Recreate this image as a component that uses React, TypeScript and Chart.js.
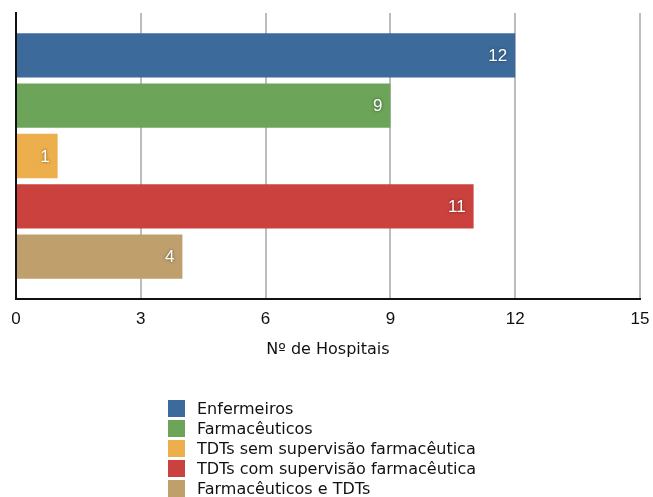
import React, { useEffect, useRef } from "react";
import { Chart, registerables } from "chart.js";

Chart.register(...registerables);

const categories = [
  "Enfermeiros",
  "Farmacêuticos",
  "TDTs sem supervisão farmacêutica",
  "TDTs com supervisão farmacêutica",
  "Farmacêuticos e TDTs",
];
const values = [12, 9, 1, 11, 4];
const colors = ["#3c6b9b", "#6ca459", "#ecaf4b", "#cb413d", "#bfa06c"];
const xTicks = [0, 3, 6, 9, 12, 15];
const xTitle = "Nº de Hospitais";

const valueLabelPlugin = {
  id: "valueLabels",
  afterDatasetsDraw(chart: any) {
    const ctx = chart.ctx;
    const meta = chart.getDatasetMeta(0);
    ctx.save();
    ctx.font = "17px 'Liberation Sans', Arial, sans-serif";
    ctx.textAlign = "right";
    ctx.textBaseline = "middle";
    ctx.fillStyle = "#ffffff";
    ctx.shadowColor = "rgba(0,0,0,0.55)";
    ctx.shadowBlur = 3;
    meta.data.forEach((bar: any, i: number) => {
      ctx.fillText(String(values[i]), bar.x - 8, bar.y + 1);
    });
    ctx.restore();
  },
};

const legendPlugin = {
  id: "listLegend",
  afterDraw(chart: any) {
    const ctx = chart.ctx;
    const left = 168;
    const top = 400;
    const row = 20;
    const box = 17;
    ctx.save();
    ctx.font = "16px 'DejaVu Sans', sans-serif";
    ctx.textAlign = "left";
    ctx.textBaseline = "middle";
    categories.forEach((label, i) => {
      const y = top + i * row;
      ctx.fillStyle = colors[i];
      ctx.fillRect(left, y, box, box);
      ctx.fillStyle = "#111111";
      ctx.fillText(label, left + 29, y + box / 2 + 1);
    });
    ctx.restore();
  },
};

export default function App() {
  const ref = useRef<HTMLCanvasElement | null>(null);
  useEffect(() => {
    if (!ref.current) return;
    const chart = new Chart(ref.current, {
      type: "bar",
      data: {
        datasets: [
          {
            label: xTitle,
            data: values.map((v, i) => ({ x: v, y: i })),
            backgroundColor: colors,
            borderWidth: 0,
            barPercentage: 0.88,
            categoryPercentage: 1,
          },
        ],
      },
      options: {
        animation: false,
        responsive: true,
        maintainAspectRatio: false,
        indexAxis: "y",
        layout: { padding: { left: 16, right: 13, top: 13, bottom: 137.4 } },
        plugins: { legend: { display: false }, tooltip: { enabled: false } },
        scales: {
          x: {
            type: "linear",
            min: 0,
            max: 15,
            afterBuildTicks: (scale: any) => {
              scale.ticks = xTicks.map((v) => ({ value: v }));
            },
            afterFit: (scale: any) => {
              scale.paddingLeft = 0;
              scale.paddingRight = 0;
            },
            grid: {
              drawTicks: false,
              color: (c: any) => (c.tick && c.tick.value === 0 ? "rgba(0,0,0,0)" : "#bdbdbd"),
              lineWidth: 2,
            },
            border: { display: true, color: "#111111", width: 2 },
            ticks: {
              padding: 10,
              color: "#111111",
              font: { family: "'Liberation Sans', Arial, sans-serif", size: 17 },
            },
            title: {
              display: true,
              text: xTitle,
              color: "#111111",
              font: { family: "'DejaVu Sans', sans-serif", size: 16 },
              padding: { top: 1, bottom: 0 },
            },
          },
          y: {
            type: "linear",
            reverse: true,
            offset: false,
            min: -0.84,
            max: 4.84,
            afterBuildTicks: (scale: any) => {
              scale.ticks = categories.map((_, i) => ({ value: i }));
            },
            grid: { display: false, drawTicks: false, offset: false },
            border: { display: true, color: "#111111", width: 2 },
            ticks: { display: false },
          },
        },
      },
      plugins: [valueLabelPlugin, legendPlugin],
    });
    return () => chart.destroy();
  }, []);
  return (
    <div style={{ position: "absolute", left: 0, top: 0, width: 653, height: 497, background: "#fff" }}>
      <canvas ref={ref} />
    </div>
  );
}
